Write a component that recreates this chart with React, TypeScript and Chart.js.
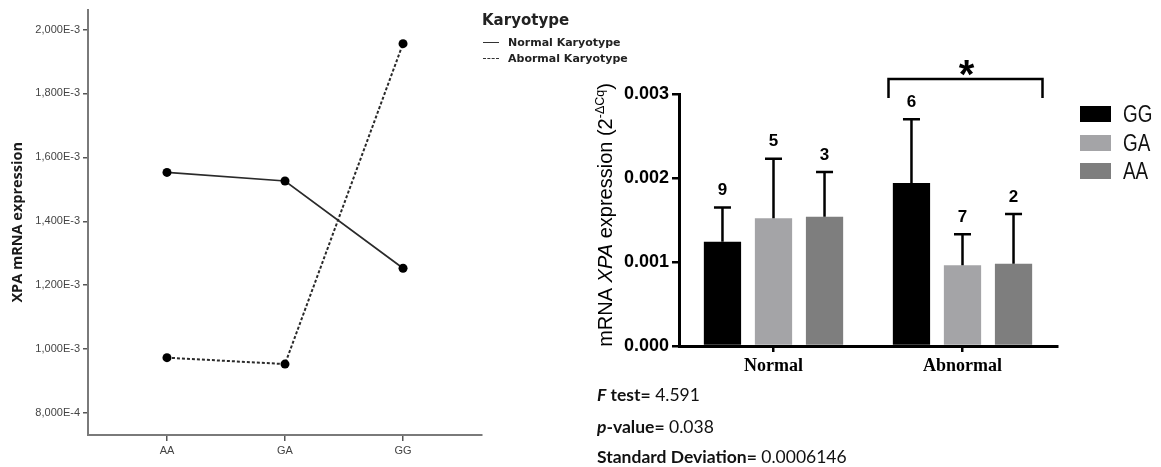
import React, { useEffect, useRef } from "react";
import { Chart, registerables } from "chart.js";

Chart.register(...registerables);

// ---------- Left line chart data ----------
const genotypes = ["AA", "GA", "GG"];
const normalKaryotype = [1.553e-3, 1.526e-3, 1.253e-3];
const abnormalKaryotype = [0.973e-3, 0.953e-3, 1.956e-3];
const lineYTicks = [0.8e-3, 1.0e-3, 1.2e-3, 1.4e-3, 1.6e-3, 1.8e-3, 2.0e-3];
const lineYTickLabels = ["8,000E-4", "1,000E-3", "1,200E-3", "1,400E-3", "1,600E-3", "1,800E-3", "2,000E-3"];
const lineSeriesNames = ["Normal Karyotype", "Abormal Karyotype"];

// ---------- Right bar chart data ----------
const groups = ["Normal", "Abnormal"];
const barSeries = ["GG", "GA", "AA"];
const meanGG = [0.00124, 0.00194];
const meanGA = [0.00152, 0.00096];
const meanAA = [0.00154, 0.00098];
const sdGG = [0.00041, 0.00076];
const sdGA = [0.00071, 0.00037];
const sdAA = [0.00053, 0.00059];
const nGG = [9, 6];
const nGA = [5, 7];
const nAA = [3, 2];
const barYTicks = [0, 0.001, 0.002, 0.003];
const barYTickLabels = ["0.000", "0.001", "0.002", "0.003"];
const barColors = ["#000000", "#a4a4a7", "#7e7e7e"];

const statLines = [
  { label: "F", rest: " test=", value: " 4.591" },
  { label: "p", rest: "-value=", value: " 0.038" },
  { label: "", rest: "Standard Deviation=", value: " 0.0006146" },
];

const LEFT_W = 560;
const RIGHT_X = 580;
const RIGHT_W = 1161 - RIGHT_X;
const H = 467;

export default function App() {
  const leftRef = useRef<HTMLCanvasElement | null>(null);
  const rightRef = useRef<HTMLCanvasElement | null>(null);

  useEffect(() => {
    const lc = leftRef.current!;
    const rc = rightRef.current!;

    const lineChart = new Chart(lc, {
      type: "line",
      data: {
        datasets: [
          {
            label: lineSeriesNames[0],
            data: normalKaryotype.map((v, i) => ({ x: i, y: v })),
            borderColor: "#2a2a2a",
            borderWidth: 1.7,
            pointRadius: 4.5,
            pointBackgroundColor: "#000",
            pointBorderColor: "#000",
            pointBorderWidth: 0,
            tension: 0,
          },
          {
            label: lineSeriesNames[1],
            data: abnormalKaryotype.map((v, i) => ({ x: i, y: v })),
            borderColor: "#2a2a2a",
            borderWidth: 2,
            borderDash: [3, 2],
            pointRadius: 4.5,
            pointBackgroundColor: "#000",
            pointBorderColor: "#000",
            pointBorderWidth: 0,
            tension: 0,
          },
        ],
      },
      options: {
        responsive: false,
        animation: false,
        clip: false as any,
        layout: { padding: { top: 9, right: LEFT_W - 482, left: 0, bottom: 0 } },
        plugins: { legend: { display: false }, tooltip: { enabled: false } },
        scales: {
          x: {
            type: "linear",
            min: -0.669,
            max: 2.669,
            afterBuildTicks: (s: any) => {
              s.ticks = genotypes.map((_, i) => ({ value: i }));
            },
            afterFit: (s: any) => {
              s.height = H - 435;
            },
            ticks: {
              autoSkip: false,
              maxRotation: 0,
              padding: 3,
              color: "#444",
              font: { family: "Liberation Sans", size: 11 },
              callback: (v: any) => genotypes[Math.round(v)] ?? "",
            },
            grid: { display: true, drawOnChartArea: false, drawTicks: true, tickLength: 6, color: "#555", lineWidth: 1.5 },
            border: { display: true, color: "#7a7a7a", width: 2 },
          },
          y: {
            type: "linear",
            min: 0.731e-3,
            max: 2.0625e-3,
            afterBuildTicks: (s: any) => {
              s.ticks = lineYTicks.map((v) => ({ value: v }));
            },
            afterFit: (s: any) => {
              s.width = 88;
            },
            ticks: {
              autoSkip: false,
              padding: 3,
              color: "#444",
              font: { family: "Liberation Sans", size: 11 },
              callback: (v: any) => {
                const i = lineYTicks.findIndex((t) => Math.abs(t - v) < 1e-9);
                return i >= 0 ? lineYTickLabels[i] : "";
              },
            },
            grid: { display: true, drawOnChartArea: false, drawTicks: true, tickLength: 5, color: "#555", lineWidth: 1.5 },
            border: { display: true, color: "#7a7a7a", width: 2 },
            title: {
              display: true,
              text: "XPA mRNA expression",
              color: "#1a1a1a",
              font: { family: "Open Sans", size: 14.5, weight: "bold" },
              padding: { top: 9, bottom: 0 },
            },
          },
        },
      },
    });

    const means = [meanGG, meanGA, meanAA];
    const sds = [sdGG, sdGA, sdAA];
    const counts = [nGG, nGA, nAA];

    const decor = {
      id: "barDecor",
      afterDatasetsDraw(chart: any) {
        const { ctx, scales, chartArea } = chart;
        const y = scales.y;
        const x = scales.x;
        ctx.save();
        chart.data.datasets.forEach((_: any, di: number) => {
          const meta = chart.getDatasetMeta(di);
          meta.data.forEach((bar: any, i: number) => {
            const xc = bar.x;
            const yTop = y.getPixelForValue(means[di][i] + sds[di][i]);
            ctx.strokeStyle = "#000";
            ctx.lineWidth = 2.5;
            ctx.beginPath();
            ctx.moveTo(xc, bar.y);
            ctx.lineTo(xc, yTop);
            ctx.moveTo(xc - 8.5, yTop);
            ctx.lineTo(xc + 8.5, yTop);
            ctx.stroke();
            ctx.fillStyle = "#000";
            ctx.font = 'bold 17px "Liberation Sans"';
            ctx.textAlign = "center";
            ctx.textBaseline = "middle";
            ctx.fillText(String(counts[di][i]), xc, yTop - 17);
          });
        });
        // significance bracket over "Abnormal"
        const cx = x.getPixelForValue(1);
        const by = chartArea.top - 15;
        ctx.lineWidth = 2.5;
        ctx.beginPath();
        ctx.moveTo(cx - 74, chartArea.top + 4);
        ctx.lineTo(cx - 74, by);
        ctx.lineTo(cx + 80, by);
        ctx.lineTo(cx + 80, chartArea.top + 4);
        ctx.stroke();
        ctx.font = 'bold 40px "Liberation Sans"';
        ctx.textAlign = "center";
        ctx.textBaseline = "alphabetic";
        ctx.fillText("*", cx + 4, by + 9);

        // rotated y-axis title with italic gene name and superscript
        const parts = [
          { t: "mRNA ", f: '20px "Liberation Sans"', dy: 0 },
          { t: "XPA", f: 'italic 20px "Liberation Sans"', dy: 0 },
          { t: " expression (2", f: '20px "Liberation Sans"', dy: 0 },
          { t: "-ΔCq", f: '12.5px "Liberation Sans"', dy: -8.5 },
          { t: ")", f: '20px "Liberation Sans"', dy: 0 },
        ];
        let total = 0;
        const widths = parts.map((p) => {
          ctx.font = p.f;
          const w = ctx.measureText(p.t).width;
          total += w;
          return w;
        });
        ctx.translate(612 - RIGHT_X, 215);
        ctx.rotate(-Math.PI / 2);
        ctx.textAlign = "left";
        ctx.textBaseline = "alphabetic";
        let px = -total / 2;
        parts.forEach((p, i) => {
          ctx.font = p.f;
          ctx.fillText(p.t, px, p.dy);
          px += widths[i];
        });
        ctx.restore();
      },
    };

    const barChart = new Chart(rc, {
      type: "bar",
      data: {
        labels: groups,
        datasets: barSeries.map((name, i) => ({
          label: name,
          data: means[i],
          backgroundColor: barColors[i],
          borderWidth: 0,
          categoryPercentage: 0.81,
          barPercentage: 0.73,
        })),
      },
      options: {
        responsive: false,
        animation: false,
        layout: { padding: { top: 94, right: 1161 - 1057, left: 0, bottom: 0 } },
        plugins: { legend: { display: false }, tooltip: { enabled: false } },
        scales: {
          x: {
            afterFit: (s: any) => {
              s.height = H - 346;
            },
            ticks: {
              color: "#000",
              padding: 4,
              font: { family: "Liberation Serif", size: 18, weight: "bold" },
            },
            grid: { display: true, offset: false, drawOnChartArea: false, drawTicks: true, tickLength: 6, color: "#000", lineWidth: 2.5 },
            border: { display: true, color: "#000", width: 3 },
          },
          y: {
            min: 0,
            max: 0.003,
            afterBuildTicks: (s: any) => {
              s.ticks = barYTicks.map((v) => ({ value: v }));
            },
            afterFit: (s: any) => {
              s.width = 679 - RIGHT_X;
            },
            ticks: {
              autoSkip: false,
              padding: 3,
              color: "#000",
              font: { family: "Liberation Sans", size: 18, weight: "bold" },
              callback: (v: any) => {
                const i = barYTicks.findIndex((t) => Math.abs(t - v) < 1e-9);
                return i >= 0 ? barYTickLabels[i] : "";
              },
            },
            grid: { display: true, drawOnChartArea: false, drawTicks: true, tickLength: 7, color: "#000", lineWidth: 2.5 },
            border: { display: true, color: "#000", width: 3 },
          },
        },
      },
      plugins: [decor],
    });

    return () => {
      lineChart.destroy();
      barChart.destroy();
    };
  }, []);

  const calib = '"Lato", "Open Sans", sans-serif';

  return (
    <div
      style={{
        position: "absolute",
        left: 0,
        top: 0,
        width: 1161,
        height: H,
        background: "#fff",
        overflow: "hidden",
      }}
    >
      <canvas
        ref={leftRef}
        width={LEFT_W}
        height={H}
        style={{ position: "absolute", left: 0, top: 0, width: LEFT_W, height: H }}
      />
      <canvas
        ref={rightRef}
        width={RIGHT_W}
        height={H}
        style={{ position: "absolute", left: RIGHT_X, top: 0, width: RIGHT_W, height: H }}
      />

      {/* Left legend */}
      <div
        style={{
          position: "absolute",
          left: 482,
          top: 10,
          font: 'bold 15px "DejaVu Sans"',
          color: "#222",
          lineHeight: "20px",
          whiteSpace: "nowrap",
        }}
      >
        Karyotype
      </div>
      {lineSeriesNames.map((name, i) => (
        <div
          key={name}
          style={{
            position: "absolute",
            left: 483,
            top: 34 + i * 16,
            height: 16,
            display: "flex",
            alignItems: "center",
            whiteSpace: "nowrap",
          }}
        >
          <div
            style={{
              width: 16,
              height: 0,
              borderTop: i === 0 ? "1.5px solid #333" : "1.5px dashed #333",
              marginRight: 9,
            }}
          />
          <span style={{ font: 'bold 11px "DejaVu Sans"', color: "#222" }}>{name}</span>
        </div>
      ))}

      {/* Right legend */}
      {barSeries.map((name, i) => (
        <div
          key={name}
          style={{
            position: "absolute",
            left: 1080,
            top: 106 + i * 28.5,
            height: 16,
            display: "flex",
            alignItems: "center",
            whiteSpace: "nowrap",
          }}
        >
          <div style={{ width: 31, height: 16, background: barColors[i], marginRight: 12 }} />
          <span
            style={{
              display: "inline-block",
              font: '23px "Liberation Sans"',
              color: "#111",
              transform: "scaleX(0.82)",
              transformOrigin: "left center",
              lineHeight: "16px",
            }}
          >
            {name}
          </span>
        </div>
      ))}

      {/* Statistics text */}
      {statLines.map((s, i) => (
        <div
          key={i}
          style={{
            position: "absolute",
            left: 597,
            top: [384, 416, 446][i],
            height: 22,
            lineHeight: "22px",
            fontFamily: calib,
            fontSize: 17.5,
            color: "#111",
            whiteSpace: "nowrap",
          }}
        >
          {s.label ? <b><i>{s.label}</i></b> : null}
          <b>{s.rest}</b>
          <span>{s.value}</span>
        </div>
      ))}
    </div>
  );
}
